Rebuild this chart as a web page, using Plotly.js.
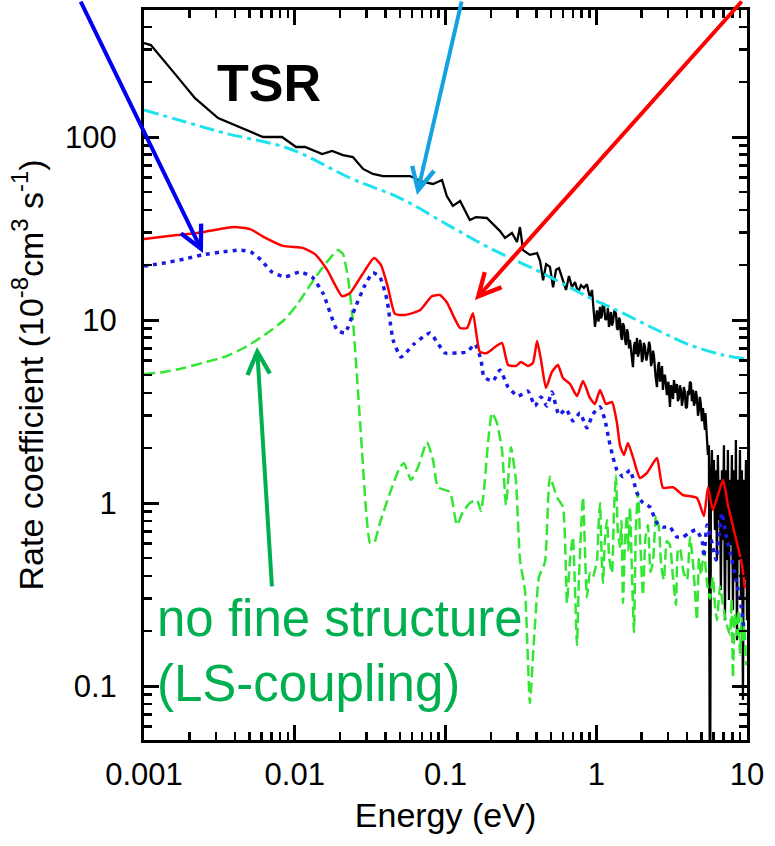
<!DOCTYPE html>
<html><head><meta charset="utf-8">
<script src="https://cdn.plot.ly/plotly-3.0.1.min.js"></script>
<style>html,body{margin:0;padding:0;background:#fff;} #chart{width:775px;height:846px;}</style>
</head><body><div id="chart"></div>
<script>
// Energy (eV) and rate coefficient (1e-8 cm^3 s^-1)
const blackE = [0.001, 0.00111, 0.00153, 0.00218, 0.0031, 0.0044, 0.00616, 0.00823, 0.0102, 0.0117, 0.0152, 0.0177, 0.0209, 0.0243, 0.0284, 0.033, 0.0385, 0.0581, 0.071, 0.0826, 0.0948, 0.102, 0.112, 0.125, 0.145, 0.159, 0.188, 0.23, 0.248, 0.276, 0.298, 0.312, 0.327,
 0.363, 0.405, 0.424, 0.444, 0.465, 0.493, 0.517, 0.541, 0.566, 0.601, 0.630, 0.659, 0.690, 0.723, 0.757, 0.793, 0.828, 0.867, 0.908, 0.937, 0.966, 0.981,
 1.011, 1.035, 1.059, 1.075, 1.091, 1.108, 1.125, 1.15, 1.178, 1.195, 1.214, 1.233, 1.252, 1.27, 1.291, 1.32, 1.352, 1.372, 1.394, 1.415, 1.436, 1.46, 1.481, 1.50, 1.527, 1.55, 1.574, 1.60, 1.623, 1.65, 1.673, 1.71, 1.752, 1.78, 1.806, 1.83, 1.862, 1.89, 1.920, 1.95, 1.980, 2.01, 2.041, 2.07, 2.104, 2.15, 2.203, 2.24, 2.272, 2.31, 2.342, 2.38, 2.415, 2.47, 2.528, 2.57, 2.606, 2.65, 2.687, 2.73, 2.770, 2.81, 2.856, 2.90, 2.944, 3.01, 3.083, 3.13, 3.178, 3.23, 3.277, 3.35, 3.430, 3.48, 3.537, 3.59, 3.646, 3.70, 3.758, 3.81, 3.875, 3.93, 3.996, 4.06, 4.120, 4.18, 4.247, 4.31, 4.378, 4.45, 4.514, 4.58, 4.655, 4.73, 4.799, 4.87, 4.948, 5.02, 5.101, 5.18, 5.260, 5.30, 5.341, 5.42, 5.506, 5.59,
 5.68, 5.764, 5.85, 5.94, 6.03, 6.13, 6.22, 6.32, 6.41, 6.51, 6.61, 6.71, 6.82, 6.92, 7.03, 7.14, 7.25, 7.36, 7.47, 7.59, 7.70, 7.82, 7.94, 8.07, 8.19, 8.32, 8.44, 8.58, 8.71, 8.84, 8.98, 9.12, 9.25, 9.40, 9.54, 9.69, 9.84, 10.0];
const blackR = [326, 318, 232, 163, 127, 112, 100, 100, 88.2, 88.2, 80.7, 83.9, 79.7, 77.7, 66.9, 62.8, 61.2, 61.2, 56.8, 55.4, 58.2, 47.6, 42.0, 44.7, 35.2, 36.5, 36.1, 30.6, 28.1, 29.9, 26.7, 32.2, 24.1,
 22.7, 23.2, 21.0, 16.5, 20.2, 19.5, 15.1, 18.8, 19.2, 16.5, 14.6, 17.4, 15.1, 16.1, 14.2, 15.5, 15.0, 15.7, 13.2, 14.6, 10.0, 9.16,
 11.3, 9.8, 11.8, 10.2, 10.65, 12.4, 12.1, 10.0, 10.25, 11.6, 9.16, 10.6, 11.06, 9.3, 9.75, 11.4, 10.8, 9.0, 8.82, 10.3, 10.0, 8.2, 7.78, 9.6, 9.27, 7.9, 7.30, 8.9, 8.49, 7.0, 7.78, 6.6, 5.53, 7.2, 7.58, 6.5, 7.98, 6.3, 6.69, 7.8, 7.30, 5.9, 6.20, 7.5, 7.12, 6.0, 6.69, 7.6, 7.21, 5.6, 5.89, 6.8, 6.36, 5.0, 4.30, 5.6, 5.89, 4.6, 5.20, 5.6, 4.15, 4.9, 5.01, 4.3, 3.89, 4.6, 3.35, 4.4, 4.25, 3.7, 4.70, 4.0, 4.47, 3.6, 3.75, 4.4, 4.15, 3.4, 3.70, 4.3, 4.04, 3.3, 3.35, 4.1, 3.89, 4.6, 4.53, 3.6, 4.15, 3.4, 3.56, 4.1, 3.75, 3.0, 3.22, 3.8, 3.43, 2.8, 3.30, 2.9, 2.51, 3.1, 2.84, 2.2, 1.83, 2.07,
 0.01, 1.34, 1.95, 0.916, 1.72, 0.712, 1.51, 0.488, 1.83, 0.807, 1.34, 0.335, 1.51, 0.628, 2.07, 0.229, 1.51, 0.488, 1.95, 0.295, 1.34, 0.590, 1.83, 0.260, 1.51, 0.380, 2.21, 0.178, 1.34, 0.488, 1.95, 0.295, 1.51, 0.0839, 1.34, 0.380, 1.72, 0.229];

const redE = [0.001, 0.00166, 0.0025, 0.00395, 0.00505, 0.00625, 0.00836, 0.0114, 0.0136, 0.0164, 0.0206, 0.0232, 0.0279, 0.0336, 0.0373, 0.0415, 0.0462, 0.0538, 0.0677, 0.0813, 0.0918, 0.102, 0.112, 0.125, 0.139, 0.152, 0.169, 0.188, 0.213, 0.237, 0.260, 0.293, 0.317, 0.352, 0.380, 0.405, 0.430, 0.464, 0.508, 0.557, 0.601, 0.670, 0.745, 0.817, 0.908, 0.981, 1.059, 1.16, 1.272, 1.372, 1.436, 1.528, 1.622, 1.752, 1.95, 2.17, 2.528, 2.77, 3.228, 3.76, 4.657, 5.18, 5.51, 5.945, 6.93, 7.47, 8.58, 9.26, 9.69];
const redR = [27.7, 29.1, 30.3, 32.2, 31.4, 28.4, 25.4, 24.7, 22.9, 18.8, 13.5, 14.0, 17.6, 21.8, 20.0, 15.1, 10.8, 10.65, 11.3, 13.5, 13.7, 12.5, 10.65, 9.04, 9.04, 10.9, 6.69, 6.60, 7.12, 7.49, 5.68, 5.61, 5.89, 5.61, 5.82, 7.68, 6.05, 4.25, 5.20, 5.68, 4.82, 4.47, 3.84, 4.64, 3.75, 3.48, 4.15, 3.48, 3.56, 2.74, 2.07, 1.83, 2.13, 1.78, 1.37, 1.46, 1.76, 1.21, 1.22, 1.106, 1.065, 0.849, 1.22, 0.916, 1.336, 0.975, 0.605, 0.458, 0.343];

const blueE = [0.001, 0.00136, 0.00184, 0.00243, 0.00324, 0.0044, 0.00513, 0.00597, 0.00706, 0.0086, 0.0108, 0.0130, 0.0154, 0.0191, 0.0215, 0.0251, 0.0292, 0.0330, 0.0367, 0.0409, 0.0449, 0.0507, 0.0618, 0.0789, 0.0878, 0.0993, 0.119, 0.139, 0.157, 0.172, 0.180, 0.2065, 0.230, 0.260, 0.303, 0.352, 0.392, 0.430, 0.471, 0.508, 0.566, 0.630, 0.70, 0.78, 0.867, 0.95, 1.059, 1.142, 1.214, 1.291, 1.372, 1.504, 1.673, 1.862, 2.04, 2.27, 2.528, 2.77, 3.08, 3.43, 3.76, 4.12, 4.59, 5.03, 5.18, 5.43, 5.86, 6.23, 6.82, 7.25, 7.95, 8.45, 9.12, 9.55];
const blueR = [19.7, 20.5, 21.5, 22.7, 23.5, 24.1, 23.5, 21.3, 18.3, 17.2, 18.3, 17.2, 14.0, 8.82, 8.49, 11.6, 15.5, 18.1, 17.2, 12.9, 7.78, 6.28, 7.39, 8.49, 7.58, 6.60, 6.60, 6.69, 7.39, 6.05, 4.88, 4.64, 5.33, 4.30, 3.84, 4.09, 3.39, 3.80, 3.39, 4.04, 3.03, 3.26, 2.81, 3.10, 2.57, 3.06, 3.35, 2.84, 2.21, 1.78, 1.51, 1.39, 1.51, 1.134, 1.0, 0.951, 0.777, 0.739, 0.739, 0.652, 0.652, 0.686, 0.712, 0.628, 0.507, 0.758, 0.605, 0.488, 0.882, 0.669, 0.488, 0.380, 0.277, 0.202];

const greenE = [0.001, 0.00136, 0.00184, 0.00243, 0.0034, 0.0046, 0.00562, 0.00686, 0.0085, 0.01035, 0.01263, 0.01517, 0.01766, 0.01935, 0.0209, 0.02255, 0.0243, 0.02624, 0.0279, 0.0297, 0.0316, 0.0336, 0.0367, 0.0428, 0.0499, 0.0531, 0.059, 0.0657, 0.0753, 0.0826, 0.0891, 0.107, 0.119, 0.1305, 0.1452, 0.1618, 0.172, 0.180, 0.1914, 0.2033, 0.2193, 0.237, 0.252, 0.2718, 0.293, 0.312, 0.3365, 0.363, 0.386, 0.417, 0.457, 0.493, 0.548, 0.601, 0.6393, 0.6695, 0.70, 0.7447, 0.767, 0.8166, 0.867, 0.908, 0.95,
 1.011, 1.035, 1.059, 1.083, 1.108, 1.14, 1.178, 1.22, 1.272, 1.31, 1.352, 1.39, 1.436, 1.47, 1.504, 1.55, 1.599, 1.635, 1.673, 1.72, 1.779, 1.83, 1.891, 1.96, 2.04, 2.12, 2.203, 2.29, 2.378, 2.49, 2.606, 2.70, 2.81, 2.94, 3.08, 3.22, 3.38, 3.48, 3.59, 3.79, 4.0, 4.19, 4.38, 4.52, 4.657, 4.80, 4.95, 5.18, 5.43, 5.68, 5.945, 6.12, 6.32, 6.62, 6.93, 7.3, 7.71, 7.9, 8.07, 8.3, 8.58, 8.78, 8.98, 9.2, 9.40, 9.6, 9.84];
const greenR = [5.07, 5.20, 5.47, 5.82, 6.28, 7.03, 7.78, 8.71, 10.0, 12.1, 15.5, 19.2, 22.4, 24.1, 22.9, 17.0, 10.0, 4.15, 1.95, 0.916, 0.605, 0.605, 0.777, 1.134, 1.57, 1.65, 1.336, 1.57, 2.15, 1.72, 1.22, 1.148, 0.758, 0.893, 1.0, 1.038, 0.904, 1.178, 2.13, 3.10, 2.74, 1.95, 0.975, 2.02, 1.336, 0.488, 0.335, 0.0807, 0.178, 0.394, 0.476, 1.39, 1.078, 0.951, 0.284, 0.488, 0.652, 0.1675, 0.380, 1.078, 0.306, 0.414, 0.394,
 0.488, 0.75, 1.0, 0.55, 0.3655, 0.62, 0.807, 0.5, 0.414, 0.9, 1.42, 0.7, 0.575, 0.8, 0.284, 0.6, 0.86, 0.55, 0.951, 0.45, 0.197, 0.7, 1.148, 0.6, 0.314, 0.65, 0.758, 0.42, 0.476, 0.85, 0.730, 0.45, 0.380, 0.62, 0.590, 0.40, 0.277, 0.55, 0.568, 0.42, 0.380, 0.65, 0.476, 0.33, 0.229, 0.5, 0.404, 0.55, 0.3655, 0.3, 0.394, 0.28, 0.229, 0.35, 0.277, 0.22, 0.190, 0.3, 0.1106, 0.25, 0.190, 0.26, 0.1477, 0.24, 0.178, 0.22, 0.130];

const cyanE = [0.001, 0.00184, 0.0034, 0.0093, 0.0233, 0.0499, 0.107, 0.197, 0.424, 0.912, 1.50, 2.53, 4.19, 6.93, 10];
const cyanR = [140.4, 121.6, 105.2, 86.0, 59.7, 46.4, 32.6, 24.7, 18.3, 13.2, 10.9, 8.82, 7.30, 6.44, 6.12];

const xTickVals = [0.001, 0.01, 0.1, 1, 10];
const xTickText = ['0.001', '0.01', '0.1', '1', '10'];
const yTickVals = [0.1, 1, 10, 100];
const yTickText = ['0.1', '1', '10', '100'];

const FONT = 'Liberation Sans, Arial, sans-serif';

const traces = [
  {x: blackE, y: blackR, mode: 'lines', line: {color: '#000000', width: 2.3}},
  {x: greenE, y: greenR, mode: 'lines', line: {color: '#33e633', width: 2.5, dash: '11px,5px', shape: 'spline', smoothing: 0.5}},
  {x: blueE, y: blueR, mode: 'lines', line: {color: '#1a1ae6', width: 3.5, dash: '4px,5px', shape: 'spline', smoothing: 0.5}},
  {x: redE, y: redR, mode: 'lines', line: {color: '#ff0000', width: 2.5, shape: 'spline', smoothing: 0.5}},
  {x: cyanE, y: cyanR, mode: 'lines', line: {color: '#1ee2ec', width: 3, dash: '15px,5px,4px,5px', shape: 'spline', smoothing: 1}}
];

function axisBase() {
  return {
    type: 'log', showline: true, linecolor: '#000', linewidth: 3, mirror: 'ticks',
    ticks: 'inside', ticklen: 15, tickwidth: 3, tickcolor: '#000',
    tickmode: 'array', showgrid: false, zeroline: false,
    tickfont: {family: FONT, size: 31, color: '#000'},
    minor: {ticks: 'inside', ticklen: 8, tickwidth: 2.5, tickcolor: '#000', dtick: 'D1', showgrid: false}
  };
}

const xaxis = Object.assign(axisBase(), {
  range: [-3, 1], tickvals: xTickVals, ticktext: xTickText, ticklabelstandoff: 5,
  title: {text: 'Energy (eV)', font: {family: FONT, size: 34, color: '#000'}, standoff: 12}
});
const yaxis = Object.assign(axisBase(), {
  range: [-1.295, 2.694], tickvals: yTickVals, ticktext: yTickText, ticklabelstandoff: 18,
  title: {text: 'Rate coefficient (10<sup>-8</sup>cm<sup>3</sup> s<sup>-1</sup>)', font: {family: FONT, size: 34, color: '#000'}, standoff: 12}
});

const annotations = [
  {xref: 'paper', yref: 'paper', x: 0.208, y: 0.900, text: '<b>TSR</b>', showarrow: false, xanchor: 'center', yanchor: 'middle', font: {family: FONT, size: 52, color: '#000'}},
  {xref: 'paper', yref: 'paper', x: 0.018, y: 0.167, text: 'no fine structure', showarrow: false, xanchor: 'left', yanchor: 'middle', font: {family: FONT, size: 51, color: '#00b050'}},
  {xref: 'paper', yref: 'paper', x: 0.018, y: 0.078, text: '(LS-coupling)', showarrow: false, xanchor: 'left', yanchor: 'middle', font: {family: FONT, size: 51, color: '#00b050'}},
  {xref: 'paper', yref: 'paper', x: 0.0978, y: 0.6671, ax: -123, ay: -253, text: '', showarrow: true, arrowhead: 5, arrowsize: 1.1, arrowwidth: 4, arrowcolor: '#0000ee'},
  {xref: 'paper', yref: 'paper', x: 0.4527, y: 0.7466, ax: 45, ay: -195, text: '', showarrow: true, arrowhead: 5, arrowsize: 1.1, arrowwidth: 4, arrowcolor: '#14a2e2'},
  {xref: 'paper', yref: 'paper', x: 0.5489, y: 0.6027, ax: 268, ay: -300, text: '', showarrow: true, arrowhead: 5, arrowsize: 1.1, arrowwidth: 4, arrowcolor: '#ff0000'},
  {xref: 'paper', yref: 'paper', x: 0.1874, y: 0.5384, ax: 15, ay: 241, text: '', showarrow: true, arrowhead: 5, arrowsize: 1.1, arrowwidth: 4, arrowcolor: '#00b050'}
];

const layout = {
  width: 775, height: 846,
  margin: {l: 144, r: 28, t: 10, b: 106, autoexpand: false},
  paper_bgcolor: '#fff', plot_bgcolor: '#fff',
  showlegend: false,
  font: {family: FONT, color: '#000'},
  xaxis: xaxis, yaxis: yaxis,
  annotations: annotations
};

Plotly.newPlot('chart', traces, layout, {staticPlot: true, displayModeBar: false});
</script></body></html>
